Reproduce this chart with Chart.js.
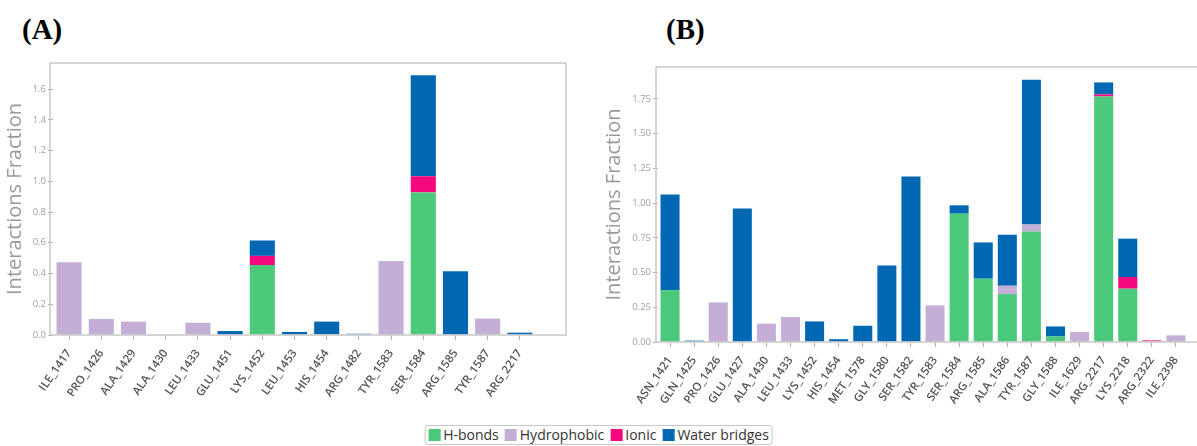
<!DOCTYPE html>
<html>
<head>
<meta charset="utf-8">
<script src="https://cdn.jsdelivr.net/npm/chart.js@4/dist/chart.umd.min.js"></script>
<style>
body{margin:0;background:#fff;width:1197px;height:446px;overflow:hidden;position:relative;font-family:"Open Sans",sans-serif}
.panel{position:absolute;top:0;width:600px;height:410px}
.tag{position:absolute;top:13px;font:bold 29px "Liberation Serif",serif;color:#000}
#legend{position:absolute;top:425px;left:50%;transform:translateX(-50%);border:1px solid #c8c8c8;border-radius:3px;padding:0 3px;display:flex;gap:6px;font-size:14px;line-height:18px;color:#333;white-space:nowrap}
#legend span.sw{display:inline-block;width:12px;height:12px;margin-right:3px;vertical-align:-1px}
</style>
</head>
<body>

<div class="tag" style="left:22px">(A)</div>
<div class="tag" style="left:666px">(B)</div>
<div class="panel" style="left:0"><canvas id="chartA" width="600" height="410"></canvas></div>
<div class="panel" style="left:597px"><canvas id="chartB" width="600" height="410"></canvas></div>
<div id="legend"></div>

<script>
// series
let series=["H-bonds","Hydrophobic","Ionic","Water bridges"]
let cores=["#4ac97a","#c4aed6","#f5087f","#0068b3"]

// painel A
let labelsA=["ILE_1417","PRO_1426","ALA_1429","ALA_1430","LEU_1433","GLU_1451","LYS_1452","LEU_1453","HIS_1454","ARG_1482","TYR_1583","SER_1584","ARG_1585","TYR_1587","ARG_2217"]
let hbondsA=[0,0,0,0,0,0,0.455,0,0.005,0,0,0.928,0,0,0]
let hidroA=[0.473,0.105,0.087,0.005,0.08,0,0,0,0,0,0.481,0,0,0.107,0]
let ionicA=[0,0,0,0,0,0,0.06,0,0,0,0,0.105,0,0,0]
let aguaA=[0,0,0,0,0,0.026,0.1,0.02,0.082,0.008,0,0.657,0.415,0,0.015]
let ticksA=[0,0.2,0.4,0.6,0.8,1.0,1.2,1.4,1.6]

// painel B
let labelsB=["ASN_1421","GLN_1425","PRO_1426","GLU_1427","ALA_1430","LEU_1433","LYS_1452","HIS_1454","MET_1578","GLY_1580","SER_1582","TYR_1583","SER_1584","ARG_1585","ALA_1586","TYR_1587","GLY_1588","ILE_1629","ARG_2217","LYS_2218","ARG_2322","ILE_2398"]
let hbondsB=[0.372,0,0,0,0,0,0,0,0,0,0,0,0.924,0.456,0.345,0.796,0.04,0,1.768,0.384,0,0]
let hidroB=[0,0,0.285,0,0.132,0.18,0,0,0,0,0,0.264,0,0,0.06,0.05,0,0.072,0,0,0.006,0.048]
let ionicB=[0,0,0,0,0,0,0,0,0,0,0,0,0,0,0,0,0,0,0.015,0.084,0.006,0]
let aguaB=[0.69,0.01,0,0.962,0,0,0.148,0.02,0.117,0.551,1.192,0,0.06,0.261,0.367,1.043,0.072,0,0.086,0.276,0,0]
let ticksB=[0,0.25,0.5,0.75,1.0,1.25,1.5,1.75]


// moldura estilo matplotlib
let moldura={
id:"moldura",
afterDraw(chart,args,opts){
let a=chart.chartArea
let ctx=chart.ctx
ctx.save()
ctx.strokeStyle="#c8c8c8"
ctx.lineWidth=1.5
ctx.beginPath()
ctx.moveTo(a.right+opts.right,a.top)
ctx.lineTo(a.left+opts.left,a.top)
ctx.lineTo(a.left+opts.left,a.bottom)
ctx.lineTo(a.right+opts.right,a.bottom)
if(opts.fechar) ctx.lineTo(a.right+opts.right,a.top)
ctx.stroke()
ctx.restore()
}
}


function criarChart(canvas,labels,valores,yMax,ticks,casas,cfg){

let datasets=series.map((s,i)=>({
label:s,
data:valores[i],
backgroundColor:cores[i],
borderWidth:0,
categoryPercentage:1,
barPercentage:cfg.barra
}))

new Chart(document.getElementById(canvas),{
type:"bar",
data:{labels:labels,datasets:datasets},
plugins:[moldura],
options:{
responsive:false,
animation:false,
layout:{padding:cfg.padding},
plugins:{
legend:{display:false},
tooltip:{enabled:false},
moldura:cfg.moldura
},
scales:{
x:{
stacked:true,
border:{display:false},
grid:{display:true,drawOnChartArea:false,offset:false,tickLength:5,color:"#b0b0b0",tickWidth:1},
afterFit:s=>{s.height=cfg.xAltura},
ticks:{
color:"#555",
font:{family:"Open Sans",size:11.5,weight:"600"},
minRotation:55,
maxRotation:55,
autoSkip:false,
padding:cfg.xPad
}
},
y:{
stacked:true,
min:0,
max:yMax,
border:{display:false},
afterFit:s=>{s.width=cfg.yLargura},
afterBuildTicks:s=>{s.ticks=ticks.map(v=>({value:v}))},
grid:{display:true,drawOnChartArea:false,tickLength:5,color:"#b0b0b0"},
ticks:{
color:"#a0a0a0",
font:{family:"Open Sans",size:9.5},
padding:2,
callback:v=>v.toFixed(casas)
},
title:{
display:true,
text:"Interactions Fraction",
color:"#999",
font:{family:"Open Sans",size:20},
padding:{top:3,bottom:0}
}
}
}
}
})

}


criarChart("chartA",labelsA,[hbondsA,hidroA,ionicA,aguaA],1.77,ticksA,1,{
barra:0.78,
padding:{top:63,left:0,right:64,bottom:0},
xAltura:75,
xPad:7,
yLargura:53,
moldura:{left:-3,right:30,fechar:true}
})

criarChart("chartB",labelsB,[hbondsB,hidroB,ionicB,aguaB],1.98,ticksB,2,{
barra:0.79,
padding:{top:67,left:2,right:9,bottom:0},
xAltura:68,
xPad:7,
yLargura:59,
moldura:{left:-2,right:40,fechar:false}
})


// legenda
let leg=document.getElementById("legend")
series.forEach((s,i)=>{
let item=document.createElement("div")
item.innerHTML='<span class="sw" style="background:'+cores[i]+'"></span>'+s
leg.appendChild(item)
})

</script>
</body>
</html>
